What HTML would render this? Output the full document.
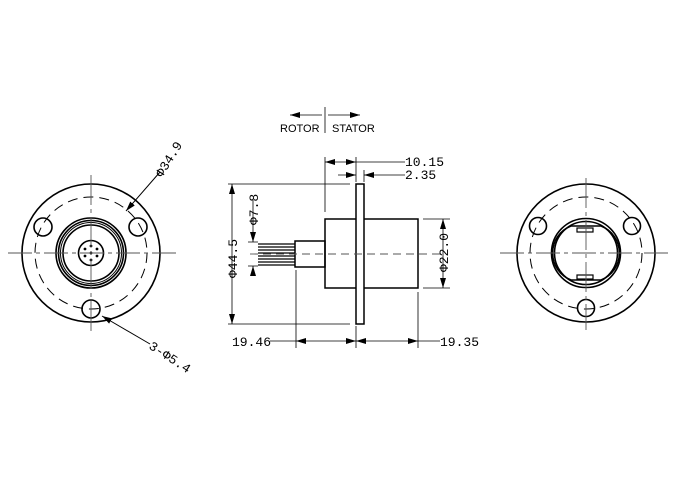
<!DOCTYPE html>
<html><head><meta charset="utf-8"><style>body{margin:0;background:#fff}svg{display:block}</style></head><body>
<svg width="680" height="480" viewBox="0 0 680 480" xmlns="http://www.w3.org/2000/svg" font-family="Liberation Mono, monospace" fill="none" stroke="#000">
<defs><marker id="a" viewBox="0 0 10 6" refX="10" refY="3" markerWidth="10" markerHeight="6" orient="auto-start-reverse" markerUnits="userSpaceOnUse"><path d="M0,0L10,3L0,6z" fill="#000" stroke="none"/></marker></defs>
<!-- LEFT VIEW -->
<g stroke-width="1.6">
<circle cx="91" cy="253" r="69"/>
<circle cx="91" cy="253" r="35"/><circle cx="91" cy="253" r="32.5"/><circle cx="91" cy="253" r="30.5" stroke-width="1"/><circle cx="91" cy="253" r="28"/>
<circle cx="91" cy="253" r="12.5"/>
<circle cx="43" cy="227" r="9"/><circle cx="138" cy="227" r="9"/><circle cx="91" cy="309" r="9"/>
</g>
<circle cx="91" cy="253" r="56" stroke-width="1" stroke-dasharray="10,6"/>
<g fill="#000" stroke="none"><circle cx="91" cy="246" r="1.4"/><circle cx="85" cy="249" r="1.4"/><circle cx="97" cy="249" r="1.4"/><circle cx="85" cy="256" r="1.4"/><circle cx="97" cy="256" r="1.4"/><circle cx="91" cy="260" r="1.4"/><circle cx="91" cy="253" r="1.4"/></g>
<g stroke="#555" stroke-width="0.9"><path d="M8 253H180" stroke-dasharray="24,4,4,4"/><path d="M91 175V335" stroke-dasharray="30,4,4,4"/></g>
<path d="M126 211L160 172" stroke-width="1" marker-start="url(#a)"/>
<path d="M102 316L150 344" stroke-width="1" marker-start="url(#a)"/>
<g fill="#000" stroke="none" font-size="13">
<text transform="translate(162,178) rotate(-58)">Φ34.9</text>
<text transform="translate(148,348) rotate(33)">3-Φ5.4</text>
</g>
<!-- RIGHT VIEW -->
<g stroke-width="1.6">
<circle cx="586" cy="253" r="69"/>
<circle cx="586" cy="253" r="34.5"/><circle cx="586" cy="253" r="31.5"/>
<path d="M571 226A29 29 0 0 0 571 280M601 226A29 29 0 0 1 601 280M571 226H601M571 280H601"/>
<rect x="577" y="228" width="16" height="4" stroke-width="1.2"/><rect x="577" y="275" width="16" height="4" stroke-width="1.2"/>
<circle cx="538" cy="226" r="8.5"/><circle cx="632" cy="226" r="8.5"/><circle cx="586" cy="308" r="8.5"/>
</g>
<circle cx="586" cy="253" r="56" stroke-width="1" stroke-dasharray="10,6"/>
<g stroke="#555" stroke-width="0.9"><path d="M500 253H672" stroke-dasharray="24,4,4,4"/><path d="M586 178V330" stroke-dasharray="30,4,4,4"/></g>
<!-- MIDDLE VIEW -->
<g stroke-width="1.5">
<rect x="356" y="184" width="8" height="140"/>
<path d="M356 219H325V288H356M364 219H418V288H364"/>
<rect x="295" y="241" width="30" height="26"/>
</g>
<g stroke-width="1.2"><path d="M258 244H295M258 247H295M258 250H295M258 253H295M258 256H295M258 259H295M258 262H295M258 265H295"/></g>
<path d="M250 254H440" stroke="#555" stroke-width="0.9" stroke-dasharray="8,5"/>
<g stroke-width="0.8">
<path d="M228 184H350M228 324H350"/>
<path d="M232 184V324" marker-start="url(#a)" marker-end="url(#a)"/>
<path d="M248 242H258M248 266H258"/>
<path d="M253 200V242" marker-end="url(#a)"/><path d="M253 266V276" marker-start="url(#a)"/>
<path d="M423 219H450M423 288H450"/>
<path d="M443 219V288" marker-start="url(#a)" marker-end="url(#a)"/>
<path d="M325 157V212M356 157V182M364 170V182"/>
<path d="M325 162H356" marker-start="url(#a)" marker-end="url(#a)"/><path d="M356 162H405"/>
<path d="M338 175H356" marker-end="url(#a)"/><path d="M382 175H364" marker-end="url(#a)"/><path d="M382 175H405"/>
<path d="M296 270V348M356 326V348M418 292V348"/>
<path d="M270 341H296" /><path d="M296 341H356" marker-start="url(#a)" marker-end="url(#a)"/>
<path d="M356 341H418" marker-start="url(#a)" marker-end="url(#a)"/><path d="M418 341H440"/>
<path d="M325 107V133"/>
<path d="M322 115H290" marker-end="url(#a)"/><path d="M328 115H360" marker-end="url(#a)"/>
</g>
<g fill="#000" stroke="none" font-size="13">
<text x="405" y="166">10.15</text><text x="405" y="179">2.35</text>
<text x="232" y="346">19.46</text><text x="440" y="346">19.35</text>
<text transform="translate(237,278) rotate(-90)">Φ44.5</text>
<text transform="translate(258,225) rotate(-90)">Φ7.8</text>
<text transform="translate(448,272) rotate(-90)">Φ22.0</text>
<text x="280" y="132" font-family="Liberation Sans, sans-serif" font-size="11">ROTOR</text>
<text x="332" y="132" font-family="Liberation Sans, sans-serif" font-size="11">STATOR</text>
</g>
</svg>
</body></html>
